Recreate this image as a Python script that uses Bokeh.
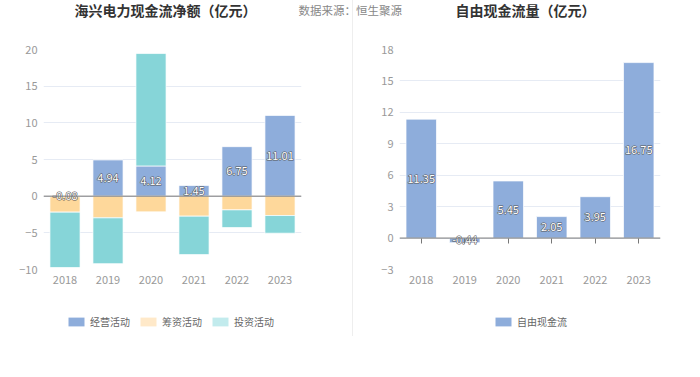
import numpy as np
from bokeh.plotting import figure
from bokeh.models import (ColumnDataSource, Span, Label, Legend, LegendItem,
                          FixedTicker, CategoricalAxis)
from bokeh.layouts import row, column
from bokeh.embed import file_html
from bokeh.resources import INLINE
from bokeh.core.properties import value

# ---------------- data ----------------
years = ["2018", "2019", "2020", "2021", "2022", "2023"]
operating = [-0.08, 4.94, 4.12, 1.45, 6.75, 11.01]
financing = [-2.10, -2.96, -2.14, -2.73, -1.87, -2.64]
investing = [-7.55, -6.24, 15.33, -5.24, -2.41, -2.41]
free_cf = [11.35, -0.44, 5.45, 2.05, 3.95, 16.75]

left_title = "海兴电力现金流净额（亿元）"
right_title = "自由现金流量（亿元）"
source_note = "数据来源：恒生聚源"
series_names = ["经营活动", "筹资活动", "投资活动"]
fcf_name = "自由现金流"

FONT = "Noto Sans CJK SC"
C_OP = "#8eaddb"
C_FIN = "#fed89b"
C_INV = "#86d5d8"
C_FIN_LEG = "#ffe9c9"
C_INV_LEG = "#c2ebed"
GRID = "#e6ebf4"
TICK_TXT = "#999999"

# --------- stacking (positive up, negative down) ----------
series = [np.array(operating), np.array(financing), np.array(investing)]
pos = np.zeros(len(years))
neg = np.zeros(len(years))
bottoms, tops = [], []
for s in series:
    b = np.where(s >= 0, pos, neg)
    t = b + s
    pos = np.where(s >= 0, t, pos)
    neg = np.where(s < 0, t, neg)
    bottoms.append(b)
    tops.append(t)


def blank(width, height):
    p = figure(width=width, height=height, x_range=(0, width), y_range=(0, height),
               x_axis_type=None, y_axis_type=None, output_backend="svg",
               toolbar_location=None, min_border=0)
    p.grid.visible = False
    p.outline_line_color = None
    p.background_fill_color = None
    p.border_fill_color = None
    p.title.visible = False
    return p


def style(p):
    p.xgrid.grid_line_color = None
    p.ygrid.grid_line_color = GRID
    p.outline_line_color = None
    for ax in (p.xaxis[0], p.yaxis[0]):
        ax.axis_line_color = None
        ax.major_tick_line_color = None
        ax.minor_tick_line_color = None
        ax.major_tick_out = 0
        ax.major_tick_in = 0
        ax.major_label_text_color = TICK_TXT
        ax.major_label_text_font = FONT
        ax.major_label_text_font_size = "11px"
    p.yaxis[0].major_label_standoff = 6
    p.xaxis[0].major_label_standoff = 6
    p.min_border_top = 9
    p.min_border_bottom = 31
    p.background_fill_color = "white"
    p.border_fill_color = None
    p.title.visible = False


def value_labels(p, src):
    # dark halo underneath, white text on top
    p.text(x="x", y="y", text="t", source=src, text_align="center",
           text_baseline="middle", text_font=value(FONT), text_font_size="11px",
           text_color="#555555", text_outline_color="#555555")
    p.text(x="x", y="y", text="t", source=src, text_align="center",
           text_baseline="middle", text_font=value(FONT), text_font_size="11px",
           text_color="white")


# ---------------- header ----------------
head = blank(700, 40)
head.add_layout(Label(x=165, y=31, text=left_title, text_align="center",
                      text_baseline="middle", text_font=FONT, text_font_size="14px",
                      text_font_style="bold", text_color="#333333"))
head.add_layout(Label(x=298, y=31, text=source_note, text_align="left",
                      text_baseline="middle", text_font=FONT, text_font_size="11.5px",
                      text_color="#888888"))
head.add_layout(Label(x=525, y=31, text=right_title, text_align="center",
                      text_baseline="middle", text_font=FONT, text_font_size="14px",
                      text_font_style="bold", text_color="#333333"))

# ---------------- left chart ----------------
p1 = figure(width=350, height=260, x_range=years, y_range=(-10, 20),
            output_backend="svg", toolbar_location=None)
p1.min_border_left = 43
p1.min_border_right = 49
style(p1)
p1.yaxis[0].ticker = FixedTicker(ticks=[-10, -5, 0, 5, 10, 15, 20])

colors = [C_OP, C_FIN, C_INV]
for i, c in enumerate(colors):
    src = ColumnDataSource(dict(x=years, bottom=bottoms[i], top=tops[i]))
    p1.vbar(x="x", bottom="bottom", top="top", width=0.7, source=src,
            fill_color=c, line_color="white", line_width=1, line_alpha=0.7)

p1.add_layout(Span(location=0, dimension="width", line_color="#777777", line_width=1))

lab_src = ColumnDataSource(dict(x=years, y=np.array(operating) / 2,
                                t=[f"{v:.2f}" for v in operating]))
value_labels(p1, lab_src)

# ---------------- right chart ----------------
p2 = figure(width=350, height=260, x_range=years, y_range=(-3, 18),
            output_backend="svg", toolbar_location=None)
p2.min_border_left = 49
p2.min_border_right = 40
style(p2)
p2.yaxis[0].ticker = FixedTicker(ticks=[-3, 0, 3, 6, 9, 12, 15, 18])

src2 = ColumnDataSource(dict(x=years, top=free_cf,
                             y=np.array(free_cf) / 2,
                             t=[f"{v:.2f}" for v in free_cf]))
p2.vbar(x="x", top="top", bottom=0, width=0.7, source=src2,
        fill_color=C_OP, line_color="white", line_width=1, line_alpha=0.7)
p2.add_layout(Span(location=0, dimension="width", line_color="#777777", line_width=1))
zero_ax = CategoricalAxis(fixed_location=0, axis_line_color=None,
                          major_tick_in=5, major_tick_out=0,
                          major_tick_line_color="#777777",
                          major_label_text_color=None)
p2.add_layout(zero_ax, "above")
value_labels(p2, src2)

# ---------------- footer (legends) ----------------
foot = blank(700, 77)
leg_colors = [C_OP, C_FIN_LEG, C_INV_LEG]
items = []
for name, c in zip(series_names, leg_colors):
    pr = foot.vbar(x=[0], top=[0], bottom=[0], width=0.0, fill_color=c, line_color=None)
    items.append(LegendItem(label=name, renderers=[pr]))
leg1 = Legend(items=items, orientation="horizontal", location=(66, 48),
              glyph_width=20, glyph_height=11, label_standoff=4, spacing=8,
              label_text_font=FONT, label_text_font_size="10px",
              label_text_color="#666666", border_line_color=None,
              margin=0, padding=0, background_fill_alpha=0)
foot.add_layout(leg1)
pr2 = foot.vbar(x=[0], top=[0], bottom=[0], width=0.0, fill_color=C_OP, line_color=None)
leg2 = Legend(items=[LegendItem(label=fcf_name, renderers=[pr2])],
              orientation="horizontal", location=(493, 48),
              glyph_width=20, glyph_height=11, label_standoff=4, spacing=8,
              label_text_font=FONT, label_text_font_size="10px",
              label_text_color="#666666", border_line_color=None,
              margin=0, padding=0, background_fill_alpha=0)
foot.add_layout(leg2)

layout = column(head, row(p1, p2), foot)
layout.styles = {
    "background-image": "linear-gradient(to right, transparent 352px, #eeeeee 352px, #eeeeee 353px, transparent 353px)",
    "background-size": "100% 336px",
    "background-repeat": "no-repeat",
    "background-color": "white",
}
open("out.html", "w").write(file_html(layout, INLINE))
